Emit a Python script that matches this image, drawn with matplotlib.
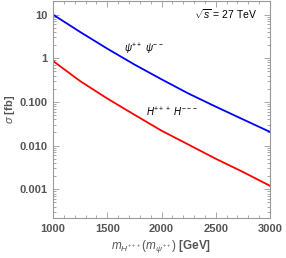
import matplotlib
matplotlib.use("Agg")
import matplotlib.pyplot as plt
from matplotlib.ticker import FixedLocator, FixedFormatter, LogLocator, NullFormatter, MultipleLocator

masses = [1000, 1250, 1500, 1750, 2000, 2250, 2500, 2750, 3000]
sigma_psi = [10.0, 4.0, 1.66, 0.72, 0.33, 0.155, 0.078, 0.040, 0.0206]
sigma_H = [0.87, 0.30, 0.12, 0.051, 0.022, 0.0105, 0.0050, 0.0025, 0.0012]
y_ticks = [0.001, 0.01, 0.1, 1, 10]
y_tick_labels = ["0.001", "0.010", "0.100", "1", "10"]
x_ticks = [1000, 1500, 2000, 2500, 3000]

plt.rcParams['font.family'] = ['Liberation Sans', 'DejaVu Sans']
plt.rcParams['mathtext.fontset'] = 'custom'
plt.rcParams['mathtext.it'] = 'Liberation Sans:italic'
plt.rcParams['mathtext.rm'] = 'Liberation Sans'

fig = plt.figure(figsize=(2.86, 2.58), dpi=100)
ax = fig.add_axes([53/286, 1 - 218/258, (270 - 53)/286, 218/258 - 0.002])

ax.plot(masses, sigma_psi, color='#0000ff', lw=1.3)
ax.plot(masses, sigma_H, color='#ff0000', lw=1.3)
ax.set_yscale('log')
ax.set_xlim(1000, 3000)
ax.set_ylim(2.2e-4, 21)

gray = '#999999'
for s in ax.spines.values():
    s.set_color(gray)
    s.set_linewidth(0.8)

ax.xaxis.set_major_locator(FixedLocator(x_ticks))
ax.xaxis.set_minor_locator(MultipleLocator(100))
ax.yaxis.set_major_locator(FixedLocator(y_ticks))
ax.yaxis.set_major_formatter(FixedFormatter(y_tick_labels))
ax.yaxis.set_minor_locator(LogLocator(base=10, subs=[2, 3, 4, 5, 6, 7, 8, 9]))
ax.yaxis.set_minor_formatter(NullFormatter())
ax.tick_params(which='both', direction='in', top=True, right=True, color=gray, width=0.6)
ax.tick_params(which='major', length=4)
ax.tick_params(which='minor', length=2)
ax.tick_params(axis='both', labelsize=8, labelcolor='#555555', pad=4)
for lab in ax.get_xticklabels() + ax.get_yticklabels():
    lab.set_fontweight('bold')

ax.set_ylabel(r'$\sigma$ [fb]', fontsize=8, color='#555555', fontweight='bold', labelpad=2)
ax.set_xlabel(r'$m_{H^{+++}}(m_{\psi^{++}})$ [GeV]', fontsize=8.5, color='#555555', fontweight='bold', labelpad=3)

ax.text(0.795, 0.935, r'$\sqrt{s}$ = 27 TeV', transform=ax.transAxes, fontsize=7.5,
        ha='center', va='center', color='black')
ax.text(0.42, 0.775, r'$\psi^{++}\ \psi^{--}$', transform=ax.transAxes, fontsize=7,
        ha='center', va='center', color='black')
ax.text(0.55, 0.485, r'$H^{+++}\ H^{---}$', transform=ax.transAxes, fontsize=7,
        ha='center', va='center', color='black')

fig.savefig('out.png', dpi=100)
